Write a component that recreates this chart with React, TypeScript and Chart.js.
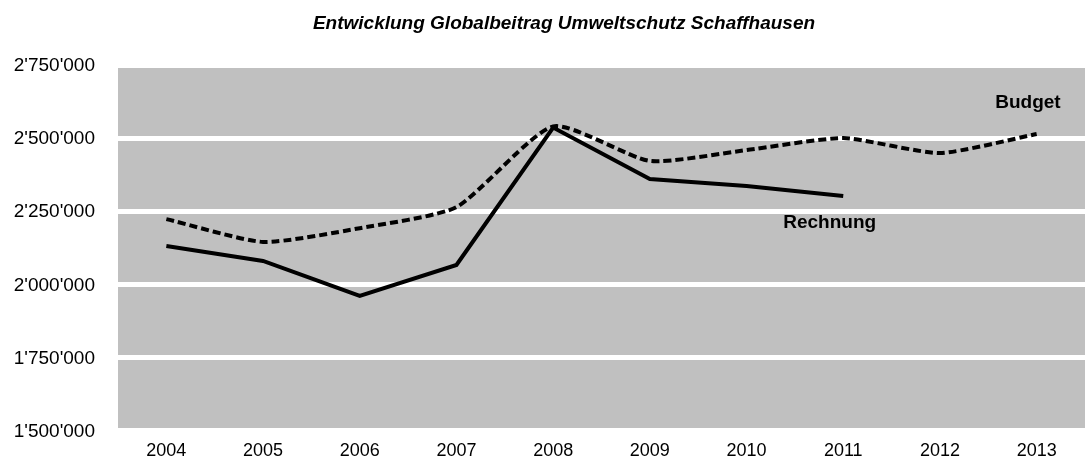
import React, { useEffect, useRef } from "react";
import { Chart, registerables } from "chart.js";

Chart.register(...registerables);

const years = ["2004", "2005", "2006", "2007", "2008", "2009", "2010", "2011", "2012", "2013"];
const rechnung = [2131000, 2080000, 1960000, 2066000, 2536000, 2360000, 2336000, 2302000, null, null];
const budget = [2223000, 2145000, 2192000, 2264000, 2540000, 2422000, 2459000, 2500000, 2449000, 2514000];
const yMin = 1500000;
const yMax = 2750000;
const yStep = 250000;
const titleText = "Entwicklung Globalbeitrag Umweltschutz Schaffhausen";
const seriesNames = ["Rechnung", "Budget"];
// label anchors: [category index, value]
const rechnungLabelAt = [6.86, 2192000];
const budgetLabelAt = [8.91, 2603000];

const fmt = (n: number) => String(n).replace(/\B(?=(\d{3})+(?!\d))/g, "'");

const FONT = "'Liberation Sans', Arial, sans-serif";

export default function App() {
  const ref = useRef<HTMLCanvasElement | null>(null);
  useEffect(() => {
    if (!ref.current) return;
    const decor = {
      id: "decor",
      beforeDraw(chart: any) {
        const { ctx, chartArea } = chart;
        ctx.save();
        ctx.fillStyle = "#C0C0C0";
        ctx.fillRect(chartArea.left, chartArea.top, chartArea.right - chartArea.left, chartArea.bottom - chartArea.top);
        ctx.restore();
      },
      afterDatasetsDraw(chart: any) {
        const { ctx } = chart;
        const xs = chart.scales.x;
        const ys = chart.scales.y;
        ctx.save();
        ctx.fillStyle = "#000";
        ctx.textBaseline = "alphabetic";
        ctx.textAlign = "center";
        ctx.font = `italic bold 19px ${FONT}`;
        ctx.fillText(titleText, 564, 29);
        ctx.font = `bold 19px ${FONT}`;
        ctx.fillText(seriesNames[0], xs.getPixelForValue(rechnungLabelAt[0]), ys.getPixelForValue(rechnungLabelAt[1]));
        ctx.fillText(seriesNames[1], xs.getPixelForValue(budgetLabelAt[0]), ys.getPixelForValue(budgetLabelAt[1]));
        ctx.restore();
      },
    };
    const chart = new Chart(ref.current, {
      type: "line",
      data: {
        labels: years,
        datasets: [
          {
            label: seriesNames[0],
            data: rechnung,
            borderColor: "#000",
            borderWidth: 4,
            pointRadius: 0,
            tension: 0,
            borderJoinStyle: "miter",
            spanGaps: false,
          },
          {
            label: seriesNames[1],
            data: budget,
            borderColor: "#000",
            borderWidth: 4,
            borderDash: [8, 4],
            pointRadius: 0,
            tension: 0.2,
          },
        ],
      },
      options: {
        animation: false,
        responsive: false,
        maintainAspectRatio: false,
        devicePixelRatio: 1,
        layout: { padding: { top: 65, right: 2, left: 0, bottom: 0 } },
        plugins: { legend: { display: false }, title: { display: false }, tooltip: { enabled: false } },
        scales: {
          x: {
            offset: true,
            grid: { display: false, drawTicks: false },
            border: { display: false },
            ticks: { color: "#000", font: { family: FONT, size: 18 }, padding: 10, maxRotation: 0, autoSkip: false },
            afterFit(scale: any) {
              scale.height = 30.5;
            },
          },
          y: {
            min: yMin,
            max: yMax,
            grid: { color: "#FFFFFF", lineWidth: 5, drawTicks: false },
            border: { display: false },
            ticks: {
              stepSize: yStep,
              color: "#000",
              font: { family: FONT, size: 19 },
              padding: 23,
              labelOffset: 1,
              callback: (v: any) => fmt(Number(v)),
            },
            afterFit(scale: any) {
              scale.width = 118;
              scale.paddingTop = 0;
              scale.paddingBottom = 0;
            },
          },
        },
      },
      plugins: [decor],
    });
    return () => chart.destroy();
  }, []);
  return (
    <div style={{ position: "absolute", left: 0, top: 0, width: 1087, height: 461 }}>
      <canvas ref={ref} width={1087} height={461} style={{ display: "block" }} />
    </div>
  );
}
